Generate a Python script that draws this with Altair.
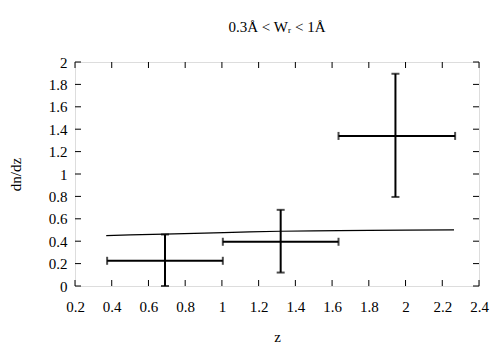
import altair as alt
import pandas as pd

# Data points with error bars
z_center = [0.69, 1.32, 1.945]
z_low = [0.375, 1.005, 1.635]
z_high = [1.005, 1.635, 2.27]
dndz = [0.225, 0.395, 1.34]
dndz_low = [0.0, 0.12, 0.795]
dndz_high = [0.46, 0.68, 1.895]

# Model curve
curve_z = [0.37, 0.5, 0.685, 0.85, 1.01, 1.15, 1.318, 1.5, 1.637, 1.8, 2.0, 2.264]
curve_dndz = [0.450, 0.456, 0.463, 0.470, 0.477, 0.483, 0.489, 0.492, 0.495, 0.497, 0.499, 0.501]

x_ticks = [0.2, 0.4, 0.6, 0.8, 1.0, 1.2, 1.4, 1.6, 1.8, 2.0, 2.2, 2.4]
y_ticks = [0, 0.2, 0.4, 0.6, 0.8, 1.0, 1.2, 1.4, 1.6, 1.8, 2.0]

W, H = 404, 224
FONT = "Liberation Serif, Times New Roman, serif"
TL = 6  # inward tick length

pts = pd.DataFrame({"z": z_center, "zl": z_low, "zh": z_high,
                    "n": dndz, "nl": dndz_low, "nh": dndz_high})
curve = pd.DataFrame({"z": curve_z, "n": curve_dndz})
xt = pd.DataFrame({"v": x_ticks})
yt = pd.DataFrame({"v": y_ticks})

xs = alt.Scale(domain=[0.2, 2.4], nice=False, zero=False)
ys = alt.Scale(domain=[0, 2], nice=False, zero=False)

common = dict(format="~g", ticks=False, domain=False, grid=False,
              labelOverlap=False, labelBound=False, labelFlush=False,
              labelFont=FONT, labelFontSize=15, labelColor="black",
              titleFont=FONT, titleFontSize=15, titleFontWeight="normal",
              titleColor="black")
xaxis = alt.Axis(values=x_ticks, labelPadding=13, title="z", titlePadding=15, **common)
yaxis = alt.Axis(values=y_ticks, labelPadding=8, title="dn/dz", titlePadding=25, **common)


def X(f):
    return alt.X(f, scale=xs, axis=xaxis)


def Y(f):
    return alt.Y(f, scale=ys, axis=yaxis)


line = alt.Chart(curve).mark_line(color="black", strokeWidth=1.2).encode(
    x=X("z:Q"), y=Y("n:Q"))

hbar = alt.Chart(pts).mark_rule(color="black", strokeWidth=2).encode(
    x=X("zl:Q"), x2="zh:Q", y=Y("n:Q"))
vbar = alt.Chart(pts).mark_rule(color="black", strokeWidth=2).encode(
    x=X("z:Q"), y=Y("nl:Q"), y2="nh:Q")

capL = alt.Chart(pts).mark_tick(color="black", orient="vertical", size=8, thickness=2).encode(
    x=X("zl:Q"), y=Y("n:Q"))
capR = alt.Chart(pts).mark_tick(color="black", orient="vertical", size=8, thickness=2).encode(
    x=X("zh:Q"), y=Y("n:Q"))
capB = alt.Chart(pts).mark_tick(color="black", orient="horizontal", size=8, thickness=2).encode(
    x=X("z:Q"), y=Y("nl:Q"))
capT = alt.Chart(pts).mark_tick(color="black", orient="horizontal", size=8, thickness=2).encode(
    x=X("z:Q"), y=Y("nh:Q"))

tb = alt.Chart(xt).mark_rule(color="black", strokeWidth=1).encode(
    x=X("v:Q"), y=alt.value(H), y2=alt.value(H - TL))
tt = alt.Chart(xt).mark_rule(color="black", strokeWidth=1).encode(
    x=X("v:Q"), y=alt.value(0), y2=alt.value(TL))
tl = alt.Chart(yt).mark_rule(color="black", strokeWidth=1).encode(
    y=Y("v:Q"), x=alt.value(0), x2=alt.value(TL))
tr = alt.Chart(yt).mark_rule(color="black", strokeWidth=1).encode(
    y=Y("v:Q"), x=alt.value(W), x2=alt.value(W - TL))

chart = alt.layer(line, tb, tt, tl, tr, hbar, vbar, capL, capR, capB, capT).properties(
    width=W, height=H,
    title=alt.TitleParams(text="0.3Å < Wᵣ < 1Å", font=FONT, fontSize=15,
                          fontWeight="normal", color="black", offset=20, anchor="middle"),
    autosize=alt.AutoSizeParams(type="none"),
    padding={"left": 67, "top": 54, "right": 11, "bottom": 62},
).configure_view(stroke="black", strokeWidth=1).configure(
    background="white", font=FONT
).configure_axis(
    labelFont=FONT, labelFontSize=15, titleFont=FONT, titleFontSize=15,
    titleFontWeight="normal", labelColor="black", titleColor="black",
)

chart.save("out.html", embed_options={"renderer": "svg", "actions": False})
